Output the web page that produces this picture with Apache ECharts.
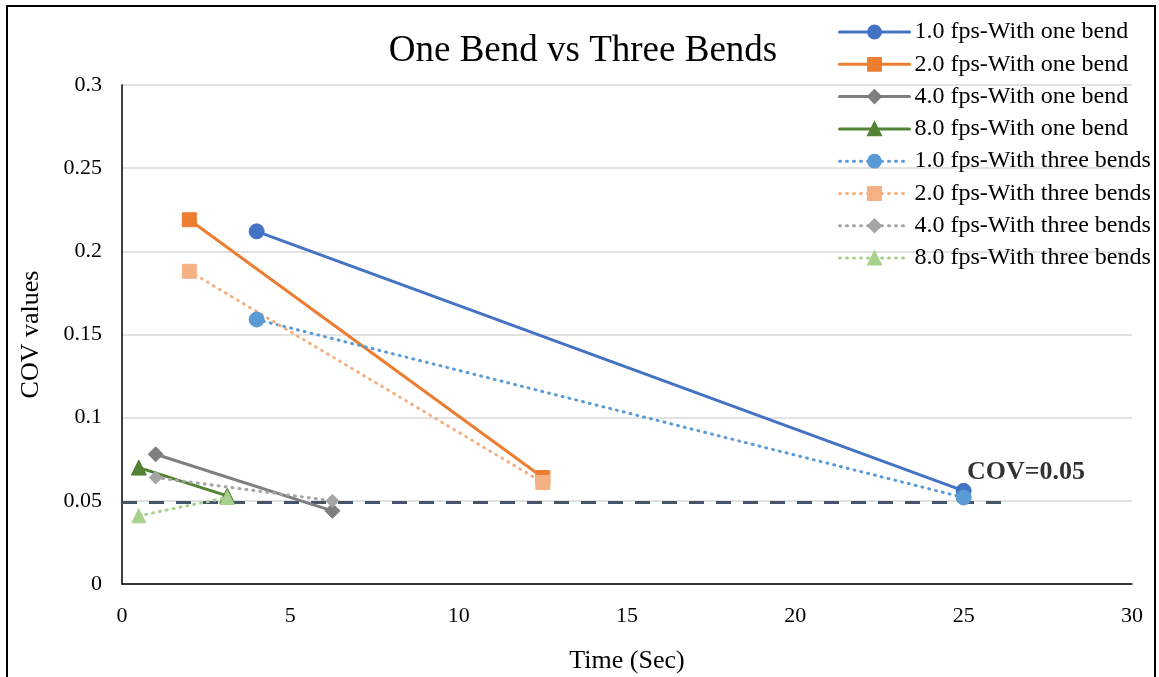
<!DOCTYPE html>
<html>
<head>
<meta charset="utf-8">
<script src="https://cdn.jsdelivr.net/npm/echarts@6/dist/echarts.min.js"></script>
<style>
  html, body { margin: 0; padding: 0; background: #fff; }
  #chart { width: 1159px; height: 677px; }
</style>
</head>
<body>
<div id="chart"></div>
<script>
// Recording times (s) per frame rate
const oneBendTimes = {
  fps1: [4, 25],
  fps2: [2, 12.5],
  fps4: [1, 6.25],
  fps8: [0.5, 3.125]
};
// COV values, one bend
const cov1fpsOne = [0.212, 0.056];
const cov2fpsOne = [0.219, 0.064];
const cov4fpsOne = [0.078, 0.044];
const cov8fpsOne = [0.070, 0.053];
// COV values, three bends
const cov1fpsThree = [0.159, 0.052];
const cov2fpsThree = [0.188, 0.061];
const cov4fpsThree = [0.064, 0.050];
const cov8fpsThree = [0.041, 0.052];
// Threshold line
const thresholdValue = 0.049;
const thresholdSpan = [0, 26.2];
const thresholdLabel = 'COV=0.05';

const seriesNames = [
  '1.0 fps-With one bend', '2.0 fps-With one bend',
  '4.0 fps-With one bend', '8.0 fps-With one bend',
  '1.0 fps-With three bends', '2.0 fps-With three bends',
  '4.0 fps-With three bends', '8.0 fps-With three bends'
];

const FONT = '"Liberation Serif", "Times New Roman", serif';

function pairs(xs, ys) { return xs.map((x, i) => [x, ys[i]]); }

function lineSeries(name, xs, ys, color, symbol, size, dotted) {
  return {
    name: name,
    type: 'line',
    data: pairs(xs, ys),
    symbol: symbol,
    symbolSize: size,
    showSymbol: true,
    lineStyle: {
      color: color,
      width: 3,
      type: dotted ? [1, 6] : 'solid',
      cap: 'round'
    },
    itemStyle: { color: color, borderColor: color, borderWidth: 1 },
    emphasis: { disabled: true },
    z: dotted ? 3 : 2
  };
}

const series = [
  lineSeries(seriesNames[0], oneBendTimes.fps1, cov1fpsOne, '#4472c4', 'circle', 15, false),
  lineSeries(seriesNames[1], oneBendTimes.fps2, cov2fpsOne, '#ed7d31', 'rect', 14, false),
  lineSeries(seriesNames[2], oneBendTimes.fps4, cov4fpsOne, '#7f7f7f', 'diamond', 15, false),
  lineSeries(seriesNames[3], oneBendTimes.fps8, cov8fpsOne, '#548235', 'triangle', 15, false),
  lineSeries(seriesNames[4], oneBendTimes.fps1, cov1fpsThree, '#5b9bd5', 'circle', 15, true),
  lineSeries(seriesNames[5], oneBendTimes.fps2, cov2fpsThree, '#f4b183', 'rect', 14, true),
  lineSeries(seriesNames[6], oneBendTimes.fps4, cov4fpsThree, '#a5a5a5', 'diamond', 13, true),
  lineSeries(seriesNames[7], oneBendTimes.fps8, cov8fpsThree, '#a9d18e', 'triangle', 14, true),
  {
    name: 'threshold',
    type: 'line',
    data: pairs(thresholdSpan, [thresholdValue, thresholdValue]),
    symbol: 'none',
    lineStyle: { color: '#44546a', width: 3, type: [15, 12] },
    emphasis: { disabled: true },
    z: 1
  },
  {
    // text marker at the right end of the threshold line
    name: 'thresholdLabel',
    type: 'scatter',
    data: [[thresholdSpan[1], thresholdValue]],
    symbolSize: 2,
    itemStyle: { color: 'rgba(0,0,0,0)' },
    label: {
      show: true,
      formatter: thresholdLabel,
      position: 'top',
      distance: 5,
      offset: [22, -11],
      color: '#000',
      fontFamily: FONT,
      fontWeight: 'bold',
      fontSize: 26
    },
    emphasis: { disabled: true },
    z: 4
  }
];

const chart = echarts.init(document.getElementById('chart'), null, { renderer: 'canvas' });
chart.setOption({
  backgroundColor: '#fff',
  animation: false,
  title: {
    text: 'One Bend vs Three Bends',
    left: 583,
    textAlign: 'center',
    top: 33,
    padding: 0,
    textStyle: { fontFamily: FONT, fontSize: 37, fontWeight: 'normal', color: '#000' }
  },
  legend: {
    data: seriesNames,
    orient: 'vertical',
    left: 838,
    top: 20,
    padding: 0,
    itemWidth: 70,
    itemHeight: 16,
    itemGap: 8.3,
    lineStyle: { width: 3 },
    textStyle: { fontFamily: FONT, fontSize: 24, color: '#000', lineHeight: 24 }
  },
  grid: { left: 122, right: 27, top: 85, bottom: 93, outerBoundsMode: 'none', containLabel: false },
  xAxis: {
    type: 'value',
    min: 0, max: 30, interval: 5,
    name: 'Time (Sec)',
    nameLocation: 'middle',
    nameGap: 64,
    nameTextStyle: { fontFamily: FONT, fontSize: 26, color: '#000' },
    axisLine: { show: true, lineStyle: { color: '#000', width: 1.5 } },
    axisTick: { show: false },
    splitLine: { show: false },
    axisLabel: { fontFamily: FONT, fontSize: 22, color: '#000', margin: 21 }
  },
  yAxis: {
    type: 'value',
    min: 0, max: 0.3, interval: 0.05,
    name: 'COV values',
    nameLocation: 'middle',
    nameGap: 78,
    nameTextStyle: { fontFamily: FONT, fontSize: 26, color: '#000' },
    axisLine: { show: true, lineStyle: { color: '#000', width: 1.5 } },
    axisTick: { show: false },
    splitLine: { show: true, lineStyle: { color: '#d9d9d9', width: 1.5 } },
    axisLabel: { fontFamily: FONT, fontSize: 22, color: '#000', margin: 20 }
  },
  graphic: [
    {
      type: 'rect',
      shape: { x: 7, y: 6, width: 1148, height: 720 },
      style: { fill: 'none', stroke: '#000', lineWidth: 2 },
      silent: true,
      z: 100
    }
  ],
  series: series
});
</script>
</body>
</html>
